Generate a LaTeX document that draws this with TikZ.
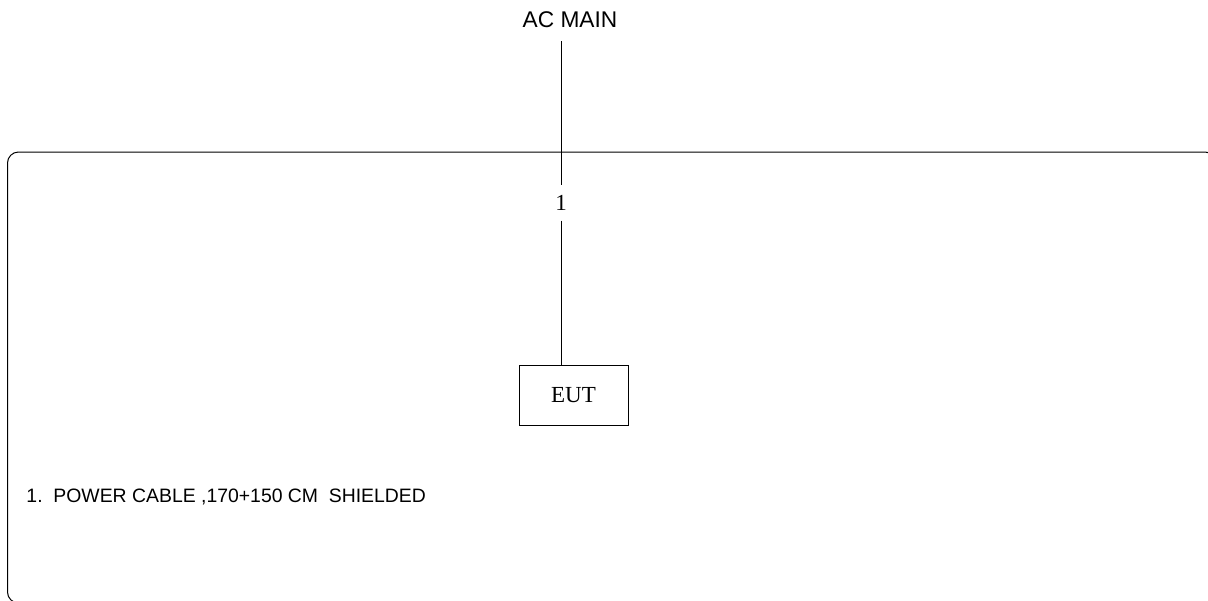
\documentclass[tikz,border=0pt]{standalone}
\usepackage{fontspec}
\setmainfont{Liberation Serif}
\newfontfamily\arialfont{Liberation Sans}
\begin{document}
\begin{tikzpicture}[x=1pt,y=-1pt,line width=1pt,
  sanslabel/.style={font=\arialfont\fontsize{22.7}{26}\selectfont,inner sep=0pt},
  caption/.style={font=\arialfont\fontsize{19.4}{23}\selectfont,inner sep=0pt,anchor=west},
  seriflabel/.style={font=\fontsize{23}{27}\selectfont,inner sep=0pt},
  eutbox/.style={draw,minimum width=109pt,minimum height=60pt,inner sep=0pt,font=\fontsize{23}{27}\selectfont}]
\useasboundingbox (0,0) rectangle (1208,600);
\clip (0,0) rectangle (1208,600);
\draw[rounded corners=11pt] (7.5,152) rectangle (1216,603);
\node[sanslabel] (acmain) at (570,20) {AC MAIN};
\coordinate (actop) at (561,41);
\node[seriflabel,minimum height=35pt] (one) at (561,202.5) {1};
\node[eutbox] (eut) at (573.5,395.5) {EUT};
\draw (actop) -- (one.north);
\draw (one.south) -- (one.south |- eut.north);
\node[caption] (cap) at (26,497) {1.\ \ POWER CABLE ,170+150 CM\ \ SHIELDED};
\end{tikzpicture}
\end{document}
